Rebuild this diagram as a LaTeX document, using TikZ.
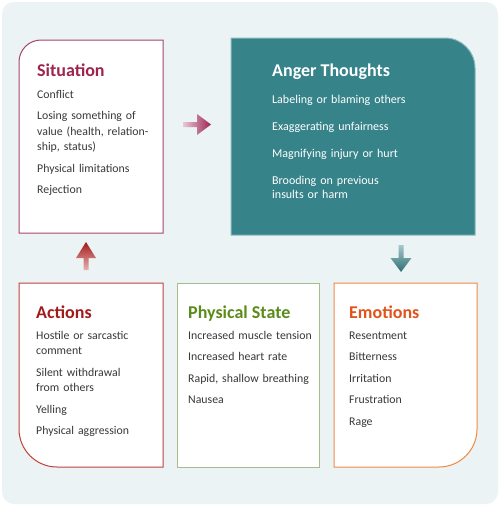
\documentclass[tikz,border=0pt]{standalone}
\usepackage{fontspec}
\setmainfont{Carlito}
\usepackage{xcolor}
\usetikzlibrary{positioning,calc}

\definecolor{bgcol}{HTML}{ECF3F5}
\definecolor{bodycol}{HTML}{383838}
\definecolor{sitcol}{HTML}{9E2450}
\definecolor{sitline}{HTML}{A8456A}
\definecolor{angfill}{HTML}{36838A}
\definecolor{angline}{HTML}{8AB9BE}
\definecolor{actcol}{HTML}{A31A1C}
\definecolor{actline}{HTML}{C4403C}
\definecolor{phycol}{HTML}{5B8C1A}
\definecolor{phyline}{HTML}{A5BD8A}
\definecolor{emocol}{HTML}{E0531A}
\definecolor{emoline}{HTML}{F08A40}

\tikzset{
  panel/.style={rectangle,inner sep=0pt,outer sep=0pt},
  border/.style={line width=1pt,fill=white},
  title/.style={anchor=base west,inner sep=0pt,font=\fontsize{18}{20}\selectfont\bfseries},
  body/.style={anchor=base west,inner sep=0pt,text width=135pt,align=left,text=bodycol,font=\fontsize{11.8}{15.5}\selectfont},
  angbody/.style={anchor=base west,inner sep=0pt,text width=180pt,align=left,text=white,font=\fontsize{12}{14.5}\selectfont}
}

\begin{document}
\begin{tikzpicture}[x=1pt,y=1pt]
    \useasboundingbox (0,0) rectangle (500,-506);
    \fill[bgcol,rounded corners=12pt] (2,-2) rectangle (498,-504);

    % the five panels
    \node[panel,minimum width=144pt,minimum height=193pt] (sit) at (91,-136.5) {};
    \node[panel,minimum width=244pt,minimum height=197pt] (ang) at (353,-136.5) {};
    \node[panel,minimum width=144pt,minimum height=184pt] (act) at (91,-375) {};
    \node[panel,minimum width=142pt,minimum height=184pt,draw=phyline,fill=white,line width=1pt] (phy) at (248,-375) {};
    \node[panel,minimum width=143pt,minimum height=184pt] (emo) at (405.5,-375) {};

    \draw[border,draw=sitline] (sit.west) [rounded corners=22pt] |- (sit.north) [sharp corners] -| (sit.east) |- (sit.south) -| (sit.west) -- cycle;
    \draw[border,draw=angline,fill=angfill] (ang.north) [rounded corners=30pt] -| (ang.east) [sharp corners] |- (ang.south) -| (ang.west) |- (ang.north) -- cycle;
    \draw[border,draw=actline] (act.north) -| (act.east) |- (act.south) [rounded corners=38pt] -| (act.west) [sharp corners] |- (act.north) -- cycle;
    \draw[border,draw=emoline] (emo.north) -| (emo.west) |- (emo.south) [rounded corners=38pt] -| (emo.east) [sharp corners] |- (emo.north) -- cycle;

    % texts
    \node[title,text=sitcol] (sithead) at ([shift={(18pt,-36pt)}]sit.north west) {Situation};
    \node[body] (sitlist) at ([yshift=-22pt]sithead.base west) {Conflict\\[6pt]
      Losing something of\\value (health, relation-\\ship, status)\\[6pt]
      Physical limitations\\[6pt]
      Rejection};

    \node[title,text=white] (anghead) at ([shift={(41pt,-38pt)}]ang.north west) {Anger Thoughts};
    \node[angbody] (anglist) at ([yshift=-27pt]anghead.base west) {Labeling or blaming others\\[12.5pt]
      Exaggerating unfairness\\[12.5pt]
      Magnifying injury or hurt\\[12.5pt]
      Brooding on previous\\insults or harm};

    \node[title,text=actcol] (acthead) at ([shift={(17pt,-35pt)}]act.north west) {Actions};
    \node[body] (actlist) at ([yshift=-21pt]acthead.base west) {Hostile or sarcastic\\comment\\[6pt]
      Silent withdrawal\\from others\\[6pt]
      Yelling\\[6pt]
      Physical aggression};

    \node[title,text=phycol] (phyhead) at ([shift={(11pt,-35pt)}]phy.north west) {Physical State};
    \node[body] (phylist) at ([yshift=-21pt]phyhead.base west) {Increased muscle tension\\[6pt]
      Increased heart rate\\[6pt]
      Rapid, shallow breathing\\[6pt]
      Nausea};

    \node[title,text=emocol] (emohead) at ([shift={(15pt,-35pt)}]emo.north west) {Emotions};
    \node[body] (emolist) at ([yshift=-21pt]emohead.base west) {Resentment\\[6pt]
      Bitterness\\[6pt]
      Irritation\\[6pt]
      Frustration\\[6pt]
      Rage};

    % arrows between the panels
    \coordinate (rtail) at ([shift={(20pt,12pt)}]sit.east);
    \coordinate (rtip) at ([shift={(-20pt,12pt)}]ang.west);
    \shade[left color=sitcol!25,right color=sitcol] ($(rtail)+(0,2.5)$) -- ($(rtip)+(-14,2.5)$) -- ($(rtip)+(-14,10.5)$) -- (rtip)
      -- ($(rtip)+(-14,-10.5)$) -- ($(rtip)+(-14,-2.5)$) -- ($(rtail)+(0,-2.5)$) -- cycle;

    \coordinate (utail) at ([shift={(-5pt,13pt)}]act.north);
    \coordinate (utip) at ([shift={(-5pt,41pt)}]act.north);
    \shade[bottom color=actline!40,top color=actcol] ($(utail)+(-2.5,0)$) -- ($(utip)+(-2.5,-16)$) -- ($(utip)+(-10,-16)$) -- (utip)
      -- ($(utip)+(10,-16)$) -- ($(utip)+(2.5,-16)$) -- ($(utail)+(2.5,0)$) -- cycle;

    \coordinate (dtail) at ([shift={(-4.5pt,-10pt)}]emo.north |- ang.south);
    \coordinate (dtip) at ([shift={(-4.5pt,11pt)}]emo.north);
    \shade[top color=angfill!45,bottom color=angfill!85!black] ($(dtail)+(-2.5,0)$) -- ($(dtip)+(-2.5,14)$) -- ($(dtip)+(-10.5,14)$) -- (dtip)
      -- ($(dtip)+(10.5,14)$) -- ($(dtip)+(2.5,14)$) -- ($(dtail)+(2.5,0)$) -- cycle;
\end{tikzpicture}
\end{document}
